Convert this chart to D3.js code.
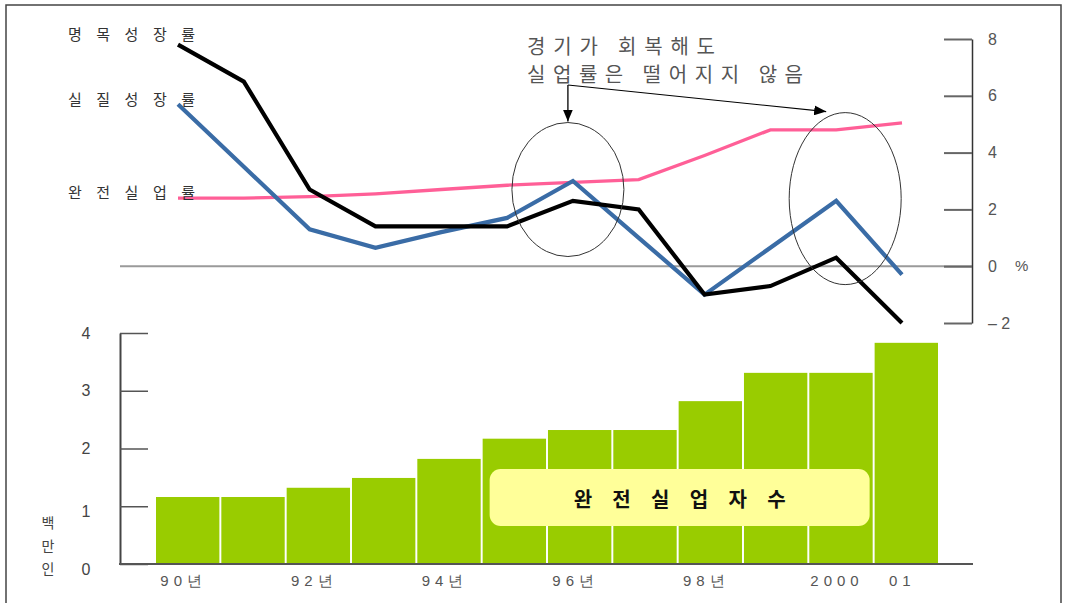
<!DOCTYPE html>
<html><head><meta charset="utf-8">
<script src="https://cdn.jsdelivr.net/npm/d3@7"></script>
<style>
html,body{margin:0;padding:0;background:#fff;}
svg{display:block;font-family:"Noto Sans CJK KR","Noto Sans",sans-serif;}
</style></head><body>
<svg id="chart" width="1068" height="611"></svg>
<script>
// ---- data ----
const years = [1990,1991,1992,1993,1994,1995,1996,1997,1998,1999,2000,2001];
const yearLabels = ["90년","","92년","","94년","","96년","","98년","","2000","01"];
const nominalGrowth = [7.8, 6.5, 2.7, 1.4, 1.4, 1.4, 2.3, 2.0, -1.0, -0.7, 0.3, -2.0];
const realGrowth = [5.7, 3.5, 1.3, 0.65, 1.2, 1.7, 3.0, 1.0, -1.0, 0.65, 2.3, -0.3];
const unemploymentRate = [2.4, 2.4, 2.45, 2.55, 2.7, 2.85, 2.95, 3.05, 3.9, 4.8, 4.8, 5.05];
const unemployedMillions = [1.16, 1.16, 1.32, 1.49, 1.82, 2.17, 2.32, 2.32, 2.82, 3.31, 3.31, 3.83];
const rateTicks = [-2, 0, 2, 4, 6, 8];
const countTicks = [0, 1, 2, 3, 4];
const seriesNames = ["명목성장률", "실질성장률", "완전실업률"];
const barTitle = "완전실업자수";
const unitChars = ["백", "만", "인"];
const noteLines = ["경기가 회복해도", "실업률은 떨어지지 않음"];
const highlightYears = [1996, 2000];

const svg = d3.select("#chart");

// frame
svg.append("path").attr("d","M6,603V5H1061V603").attr("fill","none").attr("stroke","#444").attr("stroke-width",1.5);

// ---- scales ----
const xLine = d3.scaleLinear().domain([1990, 2001]).range([178, 902]);
const yLine = d3.scaleLinear().domain([-2, 8]).range([323, 39]);
const xBar = d3.scaleBand().domain(years).range([156, 938]).paddingInner(0.03).paddingOuter(0);
const yBar = d3.scaleLinear().domain([0, 4]).range([564, 333]);

// ---- top chart ----
svg.append("line").attr("x1",120).attr("x2",972).attr("y1",yLine(0)).attr("y2",yLine(0))
  .attr("stroke","#9a9a9a").attr("stroke-width",2);

const gR = svg.append("g").attr("transform","translate(972,0)")
  .call(d3.axisLeft(yLine).tickValues(rateTicks).tickSize(28).tickSizeOuter(0)
    .tickFormat(d => d < 0 ? "– " + Math.abs(d) : String(d)));
gR.select(".domain").attr("stroke","#333").attr("stroke-width",1.5);
gR.selectAll(".tick line").attr("stroke","#666").attr("stroke-width",2);
gR.selectAll(".tick text").attr("x",16).attr("text-anchor","start")
  .attr("fill","#555").style("font-size","16px").style("font-family","Arial, 'Liberation Sans', sans-serif");
svg.append("text").attr("x",1015).attr("y",yLine(0)).attr("dy","0.35em").text("%")
  .attr("fill","#555").style("font-size","15px").style("font-family","Arial, 'Liberation Sans', sans-serif");

const series = [
  {name: seriesNames[0], values: nominalGrowth, color: "#000000", width: 4.2},
  {name: seriesNames[1], values: realGrowth, color: "#3a6ca6", width: 4.2},
  {name: seriesNames[2], values: unemploymentRate, color: "#ff5f97", width: 3.3}
];
const lineGen = d3.line().x((d,i) => xLine(years[i])).y(d => yLine(d));
[series[2], series[1], series[0]].forEach(s => {
  svg.append("path").datum(s.values).attr("d", lineGen)
    .attr("fill","none").attr("stroke", s.color).attr("stroke-width", s.width)
    .attr("stroke-linejoin","miter").attr("stroke-linecap","butt");
});

const labelOffsets = [-11, -6, -7];
series.forEach((s,i) => {
  svg.append("text").attr("x", 68).attr("y", yLine(s.values[0]) + labelOffsets[i])
    .attr("dominant-baseline","central")
    .attr("textLength", 127).attr("lengthAdjust","spacing")
    .attr("fill","#333").style("font-size","15px").text(s.name);
});

const ellipseR = [{rx:56, ry:67}, {rx:56, ry:86}];
const ellipseCenter = [
  {x: xLine(highlightYears[0]) - 5, y: yLine(2.7)},
  {x: xLine(highlightYears[1]) + 9, y: yLine(2.38)}
];
ellipseCenter.forEach((c,i) => {
  svg.append("ellipse").attr("cx",c.x).attr("cy",c.y).attr("rx",ellipseR[i].rx).attr("ry",ellipseR[i].ry)
    .attr("fill","none").attr("stroke","#333").attr("stroke-width",1);
});

noteLines.forEach((t,i) => {
  svg.append("text").attr("x",527).attr("y", 45 + i*28).attr("dominant-baseline","central")
    .attr("textLength", i === 0 ? 188 : 276).attr("lengthAdjust","spacing")
    .attr("fill","#555").style("font-size","20px").text(t);
});

const defs = svg.append("defs");
defs.append("marker").attr("id","arr").attr("viewBox","0 0 12 10").attr("refX",12).attr("refY",5)
  .attr("markerWidth",12).attr("markerHeight",10).attr("markerUnits","userSpaceOnUse").attr("orient","auto")
  .append("path").attr("d","M0,0L12,5L0,10Z").attr("fill","#000");
const ax0 = ellipseCenter[0].x, ay0 = 85;
svg.append("path").attr("d", `M${ax0},${ay0}V${ellipseCenter[0].y - ellipseR[0].ry - 1}`)
  .attr("stroke","#000").attr("stroke-width",1.3).attr("fill","none").attr("marker-end","url(#arr)");
svg.append("path").attr("d", `M${ax0},${ay0}L${ellipseCenter[1].x - 19},${ellipseCenter[1].y - ellipseR[1].ry - 1}`)
  .attr("stroke","#000").attr("stroke-width",1.1).attr("fill","none").attr("marker-end","url(#arr)");

// ---- bottom chart ----
svg.selectAll("rect.bar").data(unemployedMillions).enter().append("rect").attr("class","bar")
  .attr("x",(d,i) => xBar(years[i])).attr("width", xBar.bandwidth())
  .attr("y", d => yBar(d)).attr("height", d => yBar(0) - yBar(d))
  .attr("fill","#99cc00");

const gL = svg.append("g").attr("transform","translate(120,0)")
  .call(d3.axisLeft(yBar).tickValues(countTicks).tickSize(-28).tickSizeOuter(0).tickFormat(d3.format("d")));
gL.select(".domain").attr("stroke","#444").attr("stroke-width",2);
gL.selectAll(".tick line").attr("stroke","#555").attr("stroke-width",1.5);
gL.selectAll(".tick text").attr("x",-34).attr("dy", d => (d <= 1 ? 10 : 5) + "px").attr("text-anchor","middle")
  .attr("fill","#444").style("font-size","16px").style("font-family","Arial, 'Liberation Sans', sans-serif");

svg.append("line").attr("x1",119).attr("x2",973).attr("y1",yBar(0)).attr("y2",yBar(0))
  .attr("stroke","#555").attr("stroke-width",2);
const gB = svg.append("g").attr("transform",`translate(0,${yBar(0)})`)
  .call(d3.axisBottom(xBar).tickSize(0).tickPadding(11).tickFormat((d,i) => yearLabels[i]));
gB.select(".domain").remove();
gB.selectAll(".tick text").attr("dx","-4px").attr("fill","#555")
  .style("font-size","15px").style("letter-spacing","5px");

unitChars.forEach((c,i) => {
  svg.append("text").attr("x",48).attr("y",522 + i*23).attr("text-anchor","middle")
    .attr("dominant-baseline","central").attr("fill","#444").style("font-size","14px").text(c);
});

const boxX0 = xBar(years[5]) + 7, boxX1 = xBar(years[11]) - 5;
svg.append("rect").attr("x", boxX0).attr("y", 469).attr("width", boxX1 - boxX0).attr("height", 57)
  .attr("rx", 11).attr("fill","#ffff99");
svg.append("text").attr("x", (boxX0 + boxX1)/2).attr("y", 498).attr("text-anchor","middle")
  .attr("dominant-baseline","central").attr("textLength", 212).attr("lengthAdjust","spacing")
  .attr("fill","#111").style("font-size","20px").style("font-weight","bold").text(barTitle);
</script>
</body></html>
